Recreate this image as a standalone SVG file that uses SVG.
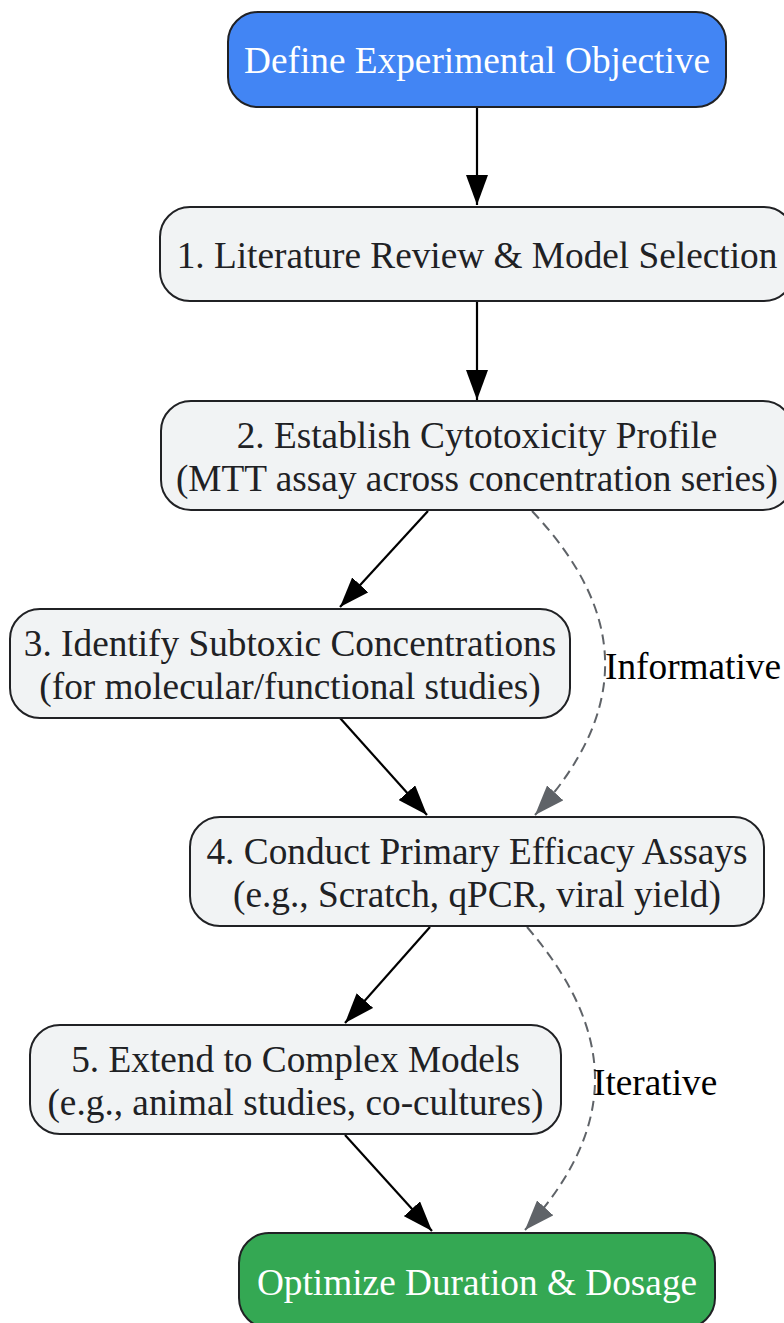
<svg xmlns="http://www.w3.org/2000/svg" width="784" height="1323" viewBox="0 0 784 1323">
<style>
.node rect{stroke:#202124;stroke-width:2}
.proc rect{fill:#F1F3F4}
.t{font-family:"Liberation Serif","Times New Roman",serif;font-size:37.3px;text-anchor:middle;fill:#202124}
.w{fill:#FFFFFF}
.e{fill:none;stroke:#000;stroke-width:2.2}
.d{fill:none;stroke:#5F6368;stroke-width:2;stroke-dasharray:10,6}
.lbl{font-family:"Liberation Serif","Times New Roman",serif;font-size:37.3px;fill:#000}
</style>
<defs>
<marker id="ah" viewBox="0 0 30 22" refX="30" refY="11" markerWidth="30" markerHeight="22" markerUnits="userSpaceOnUse" orient="auto"><path d="M0,0 L30,11 L0,22 z" fill="#000"/></marker>
<marker id="ahg" viewBox="0 0 30 22" refX="30" refY="11" markerWidth="30" markerHeight="22" markerUnits="userSpaceOnUse" orient="auto"><path d="M0,0 L30,11 L0,22 z" fill="#5F6368"/></marker>
</defs>
<rect width="784" height="1323" fill="#FFFFFF"/>
<g id="connectors">
<path class="e" d="M477,107 L477,205" marker-end="url(#ah)"/>
<path class="e" d="M477,301 L477,400" marker-end="url(#ah)"/>
<path class="e" d="M428,511 L340,607" marker-end="url(#ah)"/>
<path class="d" d="M532,511 C629,614 629,712 535,815" marker-end="url(#ahg)"/>
<text class="lbl" x="605" y="679">Informative</text>
<path class="e" d="M340,718 L427,815" marker-end="url(#ah)"/>
<path class="e" d="M430,927 L345,1023" marker-end="url(#ah)"/>
<path class="d" d="M527,927 C618,1033 618,1128 525,1230" marker-end="url(#ahg)"/>
<text class="lbl" x="593" y="1095">Iterative</text>
<path class="e" d="M345,1135 L432,1231" marker-end="url(#ah)"/>
</g>
<g id="n0" class="node"><rect x="228" y="12" width="498" height="95" rx="30" fill="#4285F4"/><text class="t w" x="477" y="73">Define Experimental Objective</text></g>
<g id="n1" class="node proc"><rect x="160" y="207" width="634" height="94" rx="30"/><text class="t" x="477" y="268">1. Literature Review &amp; Model Selection</text></g>
<g id="n2" class="node proc"><rect x="161" y="401" width="632" height="109" rx="30"/><text class="t" x="477" y="448">2. Establish Cytotoxicity Profile</text><text class="t" x="477" y="491">(MTT assay across concentration series)</text></g>
<g id="n3" class="node proc"><rect x="10" y="609" width="560" height="109" rx="30"/><text class="t" x="290" y="656">3. Identify Subtoxic Concentrations</text><text class="t" x="290" y="699">(for molecular/functional studies)</text></g>
<g id="n4" class="node proc"><rect x="190" y="817" width="574" height="109" rx="30"/><text class="t" x="477" y="864">4. Conduct Primary Efficacy Assays</text><text class="t" x="477" y="907">(e.g., Scratch, qPCR, viral yield)</text></g>
<g id="n5" class="node proc"><rect x="30" y="1025" width="531" height="109" rx="30"/><text class="t" x="295.5" y="1072">5. Extend to Complex Models</text><text class="t" x="295.5" y="1115">(e.g., animal studies, co-cultures)</text></g>
<g id="n6" class="node"><rect x="239" y="1233" width="476" height="95" rx="30" fill="#34A853"/><text class="t w" x="477" y="1295">Optimize Duration &amp; Dosage</text></g>
</svg>
